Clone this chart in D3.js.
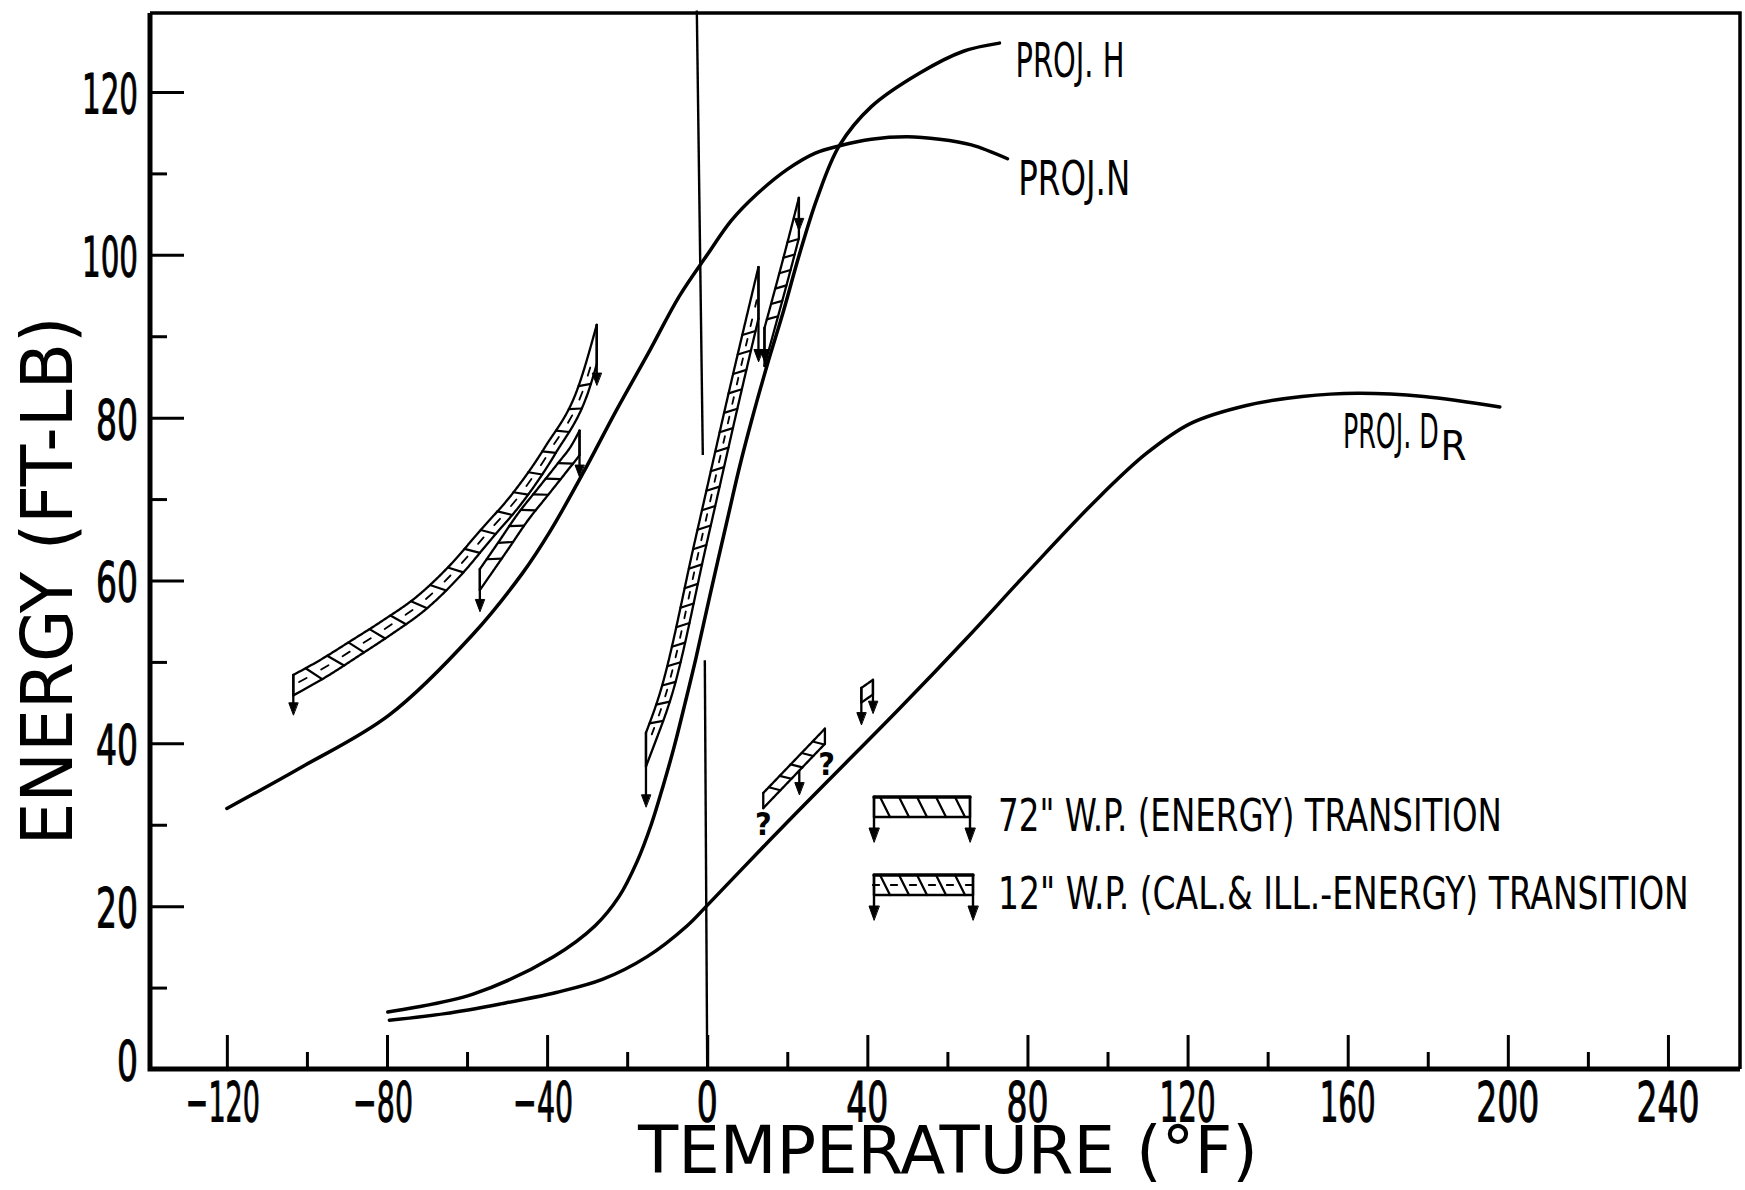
<!DOCTYPE html>
<html>
<head>
<meta charset="utf-8">
<title>Energy transition curves</title>
<script src="https://cdn.jsdelivr.net/npm/d3@7/dist/d3.min.js"></script>
<style>
  body { margin: 0; background: #fff; }
  svg { display: block; }
  text { font-family: "Liberation Sans Narrow", "DejaVu Sans Condensed", "DejaVu Sans", sans-serif; fill: #000; }
</style>
</head>
<body>
<svg id="chart" width="1745" height="1190"></svg>
<script>
// ---- values (temperature F, energy ft-lb) ----
var xMajor = [-120, -80, -40, 0, 40, 80, 120, 160, 200, 240];
var xMinor = [-100, -60, -20, 20, 60, 100, 140, 180, 220];
var yMajor = [0, 20, 40, 60, 80, 100, 120];
var yMinor = [10, 30, 50, 70, 90, 110];

var projN = [[-120, 32], [-101.6, 37], [-79.4, 43.5], [-58.5, 53.4], [-46, 61], [-39.3, 66], [-31, 73.2],
  [-22.7, 80.9], [-14.3, 88.3], [-7, 94.9], [0, 100], [6, 104.2], [12.5, 107.5], [20, 110.5], [27, 112.5],
  [33.1, 113.4], [41, 114.2], [50, 114.5], [58, 114.2], [66, 113.5], [75, 111.8]];
var projH = [[-79.8, 7.0], [-58.5, 9.2], [-38.4, 13.8], [-28, 17.6], [-22, 21.2], [-17.5, 25.5], [-14, 30],
  [-11, 34.8], [-8.3, 39.5], [-5.5, 45], [-2.8, 50.5], [0.6, 58.0], [4.8, 67.0], [8.1, 74.0],
  [11, 79.5], [15, 86.5], [19, 93], [23, 100], [27.5, 107], [33, 113.4], [41, 118.2], [53, 122.3],
  [64, 125], [73, 126]];
var projDR = [[-79.4, 6.0], [-65.5, 6.8], [-51.6, 8.0], [-37.7, 9.4], [-26.2, 11.0], [-15, 13.8],
  [-5, 17.6], [0, 20.1], [15.6, 28.1], [30, 35.3], [48.1, 44.3], [65, 53], [80, 61], [97, 69.8],
  [109.7, 75.6], [120.8, 79.3], [134.7, 81.5], [148.6, 82.6], [162.5, 83], [179, 82.6], [198, 81.3]];

// the two vertical rules near 0 F
var refLines = [[[-2.6, 130], [-1.1, 75.4]], [[-0.6, 50.2], [0, 0]]];

// transition bands: upper edge points, arrows as [temperature, tip energy]
var bandA = [[-103.4, 48.4], [-96.8, 50.2], [-89.3, 52.5], [-81.0, 55.1], [-72.6, 58.0], [-64.6, 61.7],
  [-56.6, 66.2], [-48.6, 70.7], [-40.5, 76.4], [-32.2, 83.8], [-27.6, 91.4]];
var arrowsA = [[-103.4, 43.5], [-27.6, 84.0]];
var bandB = [[-56.8, 61.4], [-52.3, 64.6], [-47.3, 68.2], [-42.3, 71.3], [-37.3, 74.4], [-33.9, 76.6], [-31.9, 78.4]];
var arrowsB = [[-56.8, 56.2], [-31.9, 72.7]];
var bandC = [[-15.3, 41.3], [-11.8, 46.2], [-3.0, 65.0], [6.1, 84.6], [12.8, 98.5]];
var arrowsC = [[-15.3, 32.2], [12.8, 86.9]];
var bandD = [[14.3, 91.0], [18.7, 99.0], [22.9, 107.0]];
var arrowsD = [[14.3, 86.9], [22.9, 103.0]];
var bandE = [[14.0, 33.9], [29.4, 41.8]];
var arrowsE = [[23.0, 33.7]];
var bandF = [[38.5, 46.8], [41.4, 47.8]];
var arrowsF = [[38.5, 42.3], [41.4, 43.7]];
var queryMarks = [[14.0, 30.2], [29.8, 37.5]];

// ---- drawing ----
var svg = d3.select("#chart");
var x = d3.scaleLinear().domain([-139.2, 258]).range([150, 1740]);
var y = d3.scaleLinear().domain([0, 129.7]).range([1069, 13]);
var xLeft = x.range()[0], xRight = x.range()[1], yTop = y.range()[1], yBottom = y.range()[0];

// text squeezed to a measured width (the lettering is tall and narrow)
function fitText(str, size, px, py, width, anchor, rotate) {
  var t = svg.append("text").attr("font-size", size).text(str);
  var k = width / t.node().getComputedTextLength();
  var dx = anchor === "middle" ? -width / 2 : (anchor === "end" ? -width : 0);
  t.attr("transform", "translate(" + px + "," + py + ")" + (rotate ? " rotate(" + rotate + ")" : "") +
    " translate(" + dx + ",0) scale(" + k + ",1)");
  return t;
}

function ticks(axis, vals, size, tr) {
  svg.append("g").attr("transform", tr)
    .call(axis.tickValues(vals).tickSize(-size).tickSizeOuter(0).tickFormat(""))
    .call(function(g) {
      g.select(".domain").remove();
      g.selectAll("text").remove();
      g.selectAll("line").attr("stroke", "#000").attr("stroke-width", 3);
    });
}
ticks(d3.axisBottom(x), xMajor, 34, "translate(0," + yBottom + ")");
ticks(d3.axisBottom(x), xMinor, 17, "translate(0," + yBottom + ")");
ticks(d3.axisLeft(y), yMajor.slice(1), 34, "translate(" + xLeft + ",0)");
ticks(d3.axisLeft(y), yMinor, 17, "translate(" + xLeft + ",0)");

// frame
svg.append("path").attr("d", "M" + xLeft + "," + yTop + "H" + xRight + "V" + yBottom)
  .attr("fill", "none").attr("stroke", "#000").attr("stroke-width", 3.5);
svg.append("path").attr("d", "M" + xLeft + "," + yTop + "V" + yBottom + "H" + xRight)
  .attr("fill", "none").attr("stroke", "#000").attr("stroke-width", 5);

// tick labels
function fmt(v) { return v < 0 ? "\u2212" + Math.abs(v) : String(v); }
function labelLen(s) {
  var w = 0;
  for (var i = 0; i < s.length; i++) w += s[i] === "1" ? 14 : (s[i] === "\u2212" ? 18 : 21);
  return w;
}
xMajor.forEach(function(d) {
  fitText(fmt(d), 55, x(d) - (d < 0 ? 4 : 0), yBottom + 52, labelLen(fmt(d)), "middle")
    .attr("stroke", "#000").attr("stroke-width", 1);
});
yMajor.forEach(function(d) {
  fitText(fmt(d), 55, xLeft - 12, Math.min(y(d) + 21, yBottom + 11), labelLen(fmt(d)), "end")
    .attr("stroke", "#000").attr("stroke-width", 1);
});

// axis titles
fitText("TEMPERATURE (\u00B0F)", 66, 948, 1173, 620, "middle");
fitText("ENERGY (FT-LB)", 72, 72, 581, 529, "middle", -90);

// vertical rules
var line = d3.line().x(function(d) { return x(d[0]); }).y(function(d) { return y(d[1]); });
svg.append("g").selectAll("path").data(refLines).join("path")
  .attr("d", line).attr("fill", "none").attr("stroke", "#000").attr("stroke-width", 2.4);

// curves
var curve = d3.line().x(function(d) { return x(d[0]); }).y(function(d) { return y(d[1]); })
  .curve(d3.curveCatmullRom.alpha(0.5));
svg.append("g").selectAll("path").data([projN, projH, projDR]).join("path")
  .attr("d", curve).attr("fill", "none").attr("stroke", "#000")
  .attr("stroke-width", 3.5).attr("stroke-linecap", "round");

// curve labels
fitText("PROJ. H", 48, x(77.0), y(121.8), 109, "start");
fitText("PROJ.N", 48, x(77.7), y(107.3), 112, "start");
fitText("PROJ. D", 48, x(158.8), y(76.3), 96, "start");
fitText("R", 40, x(183.2), y(74.8), 26, "start");

// hatched transition bands
var bandG = svg.append("g").attr("fill", "none").attr("stroke", "#000")
  .attr("stroke-linecap", "round").attr("stroke-linejoin", "round");

function drawBand(pts, st, arrows) {
  var tmp = bandG.append("path").attr("d", d3.line().curve(d3.curveMonotoneX)(pts));
  var node = tmp.node(), len = node.getTotalLength(), n = Math.max(2, Math.ceil(len));
  var P = d3.range(n + 1).map(function(i) { var q = node.getPointAtLength(len * i / n); return [q.x, q.y]; });
  tmp.remove();
  var T = P.map(function(p, i) {
    var a = P[Math.max(i - 3, 0)], b = P[Math.min(i + 3, n)];
    var dx = b[0] - a[0], dy = b[1] - a[1], l = Math.hypot(dx, dy) || 1;
    return [dx / l, dy / l];
  });
  // band width may taper from one end to the other
  var w0 = Array.isArray(st.w) ? st.w[0] : st.w, w1 = Array.isArray(st.w) ? st.w[1] : st.w;
  var W = P.map(function(p, i) { return w0 + (w1 - w0) * i / n; });
  var Q = P.map(function(p, i) { return [p[0] - W[i] * T[i][1], p[1] + W[i] * T[i][0]]; });
  var xs = P[0][0], xe = P[n][0];
  var L = [];
  var s0 = T[0][0] > 0.01 ? (Q[0][0] - xs) / T[0][0] : 0;
  L.push([xs, Q[0][1] - s0 * T[0][1]]);
  for (var i = 0; i <= n; i++) {
    if (Q[i][0] <= xe + 0.01) { if (Q[i][0] > xs) L.push(Q[i]); }
    else {
      var a = Q[i - 1], b = Q[i], f = (xe - a[0]) / (b[0] - a[0]);
      L.push([xe, a[1] + f * (b[1] - a[1])]);
      break;
    }
  }
  var sw = st.sw || 2.3;
  bandG.append("path").attr("d", d3.line()(P)).attr("stroke-width", st.topW || sw);
  bandG.append("path").attr("d", d3.line()(L)).attr("stroke-width", sw);
  bandG.append("path").attr("d", d3.line()([P[0], L[0]])).attr("stroke-width", sw);
  bandG.append("path").attr("d", d3.line()([P[n], L[L.length - 1]])).attr("stroke-width", sw);

  var cell = st.cell;
  for (var k = st.first; k <= n; k += cell) {
    var ku = Math.round(k), kl = ku + Math.round(st.shift * W[ku]);
    if (kl <= n && Q[kl][0] <= xe) {
      bandG.append("path").attr("d", d3.line()([P[ku], Q[kl]])).attr("stroke-width", sw * 0.95);
    }
  }
  if (st.kind === "12") {
    for (var k2 = st.first - cell; k2 <= n; k2 += cell) {
      var m = Math.round(k2 + st.shift * w0 / 2 + cell / 2);
      if (m < 2 || m > n - 2) continue;
      var c = [P[m][0] - 0.5 * W[m] * T[m][1], P[m][1] + 0.5 * W[m] * T[m][0]];
      if (c[0] < xs + 2 || c[0] > xe - 2) continue;
      var h = cell * 0.17;
      bandG.append("path").attr("d", d3.line()([[c[0] - h * T[m][0], c[1] - h * T[m][1]],
        [c[0] + h * T[m][0], c[1] + h * T[m][1]]])).attr("stroke-width", sw * 0.8);
    }
  }
  arrows.forEach(function(ar) {
    var ax = ar.x, y0;
    if (Math.abs(ax - xs) < 0.5) y0 = P[0][1];
    else if (Math.abs(ax - xe) < 0.5) y0 = P[n][1];
    else {
      y0 = L[0][1];
      for (var j = 1; j < L.length; j++) {
        if (L[j][0] >= ax) {
          var f2 = (ax - L[j - 1][0]) / ((L[j][0] - L[j - 1][0]) || 1);
          y0 = L[j - 1][1] + f2 * (L[j][1] - L[j - 1][1]);
          break;
        }
      }
    }
    var hl = st.head || 12, hw = (st.headW || 9) / 2;
    bandG.append("path").attr("d", d3.line()([[ax, y0], [ax, ar.tip - hl + 2]])).attr("stroke-width", sw);
    bandG.append("path").attr("d", "M" + ax + "," + ar.tip + "L" + (ax - hw) + "," + (ar.tip - hl) +
      "L" + (ax + hw) + "," + (ar.tip - hl) + "Z").attr("fill", "#000").attr("stroke-width", 1);
  });
}

var bandDefs = [
  { pts: bandA, arrows: arrowsA, st: { kind: "12", w: [18, 10], cell: 25, shift: 0.5, first: 14 } },
  { pts: bandB, arrows: arrowsB, st: { kind: "72", w: 12, cell: 20, shift: 0.75, first: 12 } },
  { pts: bandC, arrows: arrowsC, st: { kind: "12", w: 12, cell: 20, shift: 0.6, first: 10 } },
  { pts: bandD, arrows: arrowsD, st: { kind: "72", w: 10, cell: 16, shift: 0.6, first: 9 } },
  { pts: bandE, arrows: arrowsE, st: { kind: "72", w: 10.5, cell: 16, shift: 0.6, first: 8 } },
  { pts: bandF, arrows: arrowsF, st: { kind: "12", w: 12, cell: 10, shift: 0.2, first: 5 } }
];
bandDefs.forEach(function(b) {
  drawBand(b.pts.map(function(d) { return [x(d[0]), y(d[1])]; }), b.st,
    b.arrows.map(function(a) { return { x: x(a[0]), tip: y(a[1]) }; }));
});

svg.append("g").selectAll("text").data(queryMarks).join("text")
  .attr("x", function(d) { return x(d[0]); }).attr("y", function(d) { return y(d[1]); })
  .attr("dy", "0.36em").attr("text-anchor", "middle").attr("font-size", 32)
  .attr("font-weight", "bold").text("?");

// legend
var legend = [
  { kind: "72", y: 797, x1: 970, tip: 842, text: "72\" W.P. (ENERGY) TRANSITION", len: 504, base: 831 },
  { kind: "12", y: 875, x1: 973, tip: 920, text: "12\" W.P. (CAL.& ILL.-ENERGY) TRANSITION", len: 691, base: 909 }
];
legend.forEach(function(l) {
  drawBand([[874, l.y], [l.x1, l.y]],
    { kind: l.kind, w: 20, cell: 18.7, shift: 0.5, first: 6, topW: 3.5, sw: 2.4, head: 14, headW: 10 },
    [{ x: 874, tip: l.tip }, { x: l.x1, tip: l.tip }]);
  fitText(l.text, 45, 998, l.base, l.len, "start");
});
</script>
</body>
</html>
